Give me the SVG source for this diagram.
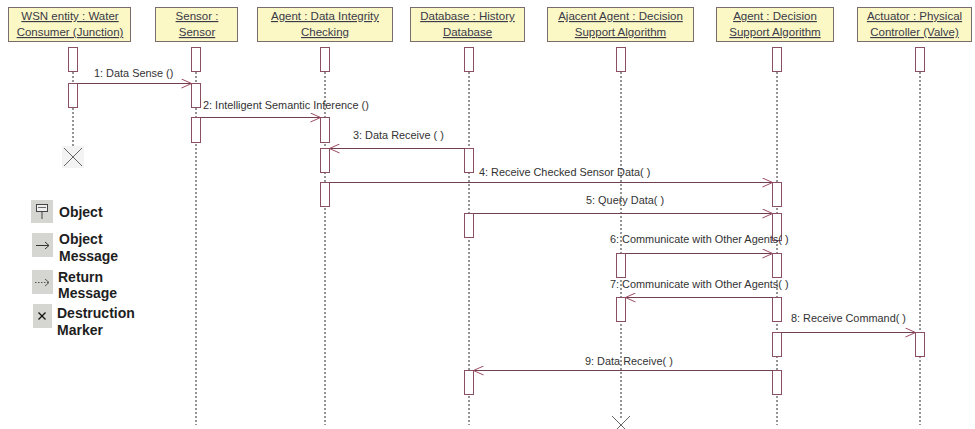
<svg xmlns="http://www.w3.org/2000/svg" width="975" height="429" viewBox="0 0 975 429">
  <style>
    .hdr { fill: #fbf8c6; stroke: #7a6c6c; stroke-width: 1; }
    .hdr-t { font-family: "Liberation Sans", Arial, sans-serif; font-size: 11.5px; fill: #3a3a48; text-anchor: middle; text-decoration: underline; }
    .life { stroke: #2a2a2a; stroke-width: 1; stroke-dasharray: 2 2; fill: none; }
    .bar { fill: #ffffff; stroke: #8a4f60; stroke-width: 1; }
    .msg { stroke: #6e4050; stroke-width: 1; fill: none; marker-end: url(#open); }
    .lbl { font-family: "Liberation Sans", Arial, sans-serif; font-size: 10.9px; fill: #333333; }
    .kill { stroke: #666666; stroke-width: 1; }
    .leg-t { font-family: "Liberation Sans", Arial, sans-serif; font-size: 14px; font-weight: bold; fill: #1e1e1e; }
    .leg-i { fill: #d5d5d1; }
  </style>
  <defs>
    <marker id="open" markerUnits="userSpaceOnUse" markerWidth="12" markerHeight="10" refX="11" refY="5" orient="auto">
      <path d="M1,0.5 L11,5 L1,9.5" fill="none" stroke="#9a4a62" stroke-width="1"/>
    </marker>
  </defs>
  <rect width="975" height="429" fill="#ffffff"/>

  <!-- lifeline: water consumer -->
  <g id="wsn-entity">
    <rect class="hdr" x="8.5" y="7.5" width="122" height="34"/>
    <text class="hdr-t" x="70" y="20">WSN entity : Water </text>
    <text class="hdr-t" x="70" y="36">Consumer (Junction)</text>
    <line class="life" x1="73" y1="72" x2="73" y2="150"/>
    <rect class="bar" x="68.5" y="47.5" width="9" height="24"/>
    <rect class="bar" x="68.5" y="83.5" width="9" height="24"/>
    <rect x="62" y="146" width="22" height="22" fill="#f3f3f3"/>
    <line class="kill" x1="64" y1="148" x2="82" y2="166"/>
    <line class="kill" x1="82" y1="148" x2="64" y2="166"/>
  </g>

  <!-- lifeline: sensor -->
  <g id="sensor">
    <rect class="hdr" x="155.5" y="7.5" width="82" height="34"/>
    <text class="hdr-t" x="197" y="20">Sensor : </text>
    <text class="hdr-t" x="197" y="36">Sensor</text>
    <line class="life" x1="196" y1="72" x2="196" y2="425"/>
    <rect class="bar" x="191.5" y="47.5" width="9" height="24"/>
    <rect class="bar" x="191.5" y="83.5" width="9" height="24"/>
    <rect class="bar" x="191.5" y="117.5" width="9" height="25"/>
  </g>

  <!-- lifeline: data integrity checking agent -->
  <g id="agent-integrity">
    <rect class="hdr" x="257.5" y="7.5" width="135" height="34"/>
    <text class="hdr-t" x="325" y="20">Agent : Data Integrity </text>
    <text class="hdr-t" x="325" y="36">Checking</text>
    <line class="life" x1="325" y1="72" x2="325" y2="425"/>
    <rect class="bar" x="320.5" y="47.5" width="9" height="24"/>
    <rect class="bar" x="320.5" y="117.5" width="9" height="25"/>
    <rect class="bar" x="320.5" y="148.5" width="9" height="24"/>
    <rect class="bar" x="320.5" y="182.5" width="9" height="24"/>
  </g>

  <!-- lifeline: history database -->
  <g id="history-db">
    <rect class="hdr" x="410.5" y="7.5" width="114" height="34"/>
    <text class="hdr-t" x="467.5" y="20">Database : History </text>
    <text class="hdr-t" x="467.5" y="36">Database</text>
    <line class="life" x1="469" y1="72" x2="469" y2="425"/>
    <rect class="bar" x="464.5" y="47.5" width="9" height="24"/>
    <rect class="bar" x="464.5" y="148.5" width="9" height="24"/>
    <rect class="bar" x="464.5" y="213.5" width="9" height="24"/>
    <rect class="bar" x="464.5" y="370.5" width="9" height="24"/>
  </g>

  <!-- lifeline: adjacent decision agent -->
  <g id="adjacent-agent">
    <rect class="hdr" x="547.5" y="7.5" width="146" height="34"/>
    <text class="hdr-t" x="620.5" y="20">Ajacent Agent : Decision </text>
    <text class="hdr-t" x="620.5" y="36">Support Algorithm</text>
    <line class="life" x1="621" y1="72" x2="621" y2="420"/>
    <rect class="bar" x="616.5" y="47.5" width="9" height="24"/>
    <rect class="bar" x="616.5" y="253.5" width="9" height="24"/>
    <rect class="bar" x="616.5" y="297.5" width="9" height="24"/>
    <line class="kill" x1="612" y1="416" x2="630" y2="434"/>
    <line class="kill" x1="630" y1="416" x2="612" y2="434"/>
  </g>

  <!-- lifeline: decision agent -->
  <g id="decision-agent">
    <rect class="hdr" x="716.5" y="7.5" width="117" height="34"/>
    <text class="hdr-t" x="775" y="20">Agent : Decision </text>
    <text class="hdr-t" x="775" y="36">Support Algorithm</text>
    <line class="life" x1="777" y1="72" x2="777" y2="425"/>
    <rect class="bar" x="772.5" y="47.5" width="9" height="24"/>
    <rect class="bar" x="772.5" y="182.5" width="9" height="24"/>
    <rect class="bar" x="772.5" y="213.5" width="9" height="27"/>
    <rect class="bar" x="772.5" y="253.5" width="9" height="24"/>
    <rect class="bar" x="772.5" y="297.5" width="9" height="24"/>
    <rect class="bar" x="772.5" y="332.5" width="9" height="24"/>
    <rect class="bar" x="772.5" y="370.5" width="9" height="24"/>
  </g>

  <!-- lifeline: valve actuator -->
  <g id="actuator">
    <rect class="hdr" x="857.5" y="7.5" width="114" height="34"/>
    <text class="hdr-t" x="914.5" y="20">Actuator : Physical </text>
    <text class="hdr-t" x="914.5" y="36">Controller (Valve)</text>
    <line class="life" x1="920" y1="72" x2="920" y2="425"/>
    <rect class="bar" x="915.5" y="47.5" width="9" height="24"/>
    <rect class="bar" x="915.5" y="332.5" width="9" height="24"/>
  </g>

  <!-- messages -->
  <g id="messages">
    <line class="msg" x1="77.5" y1="83.5" x2="191.5" y2="83.5"/>
    <text class="lbl" x="94" y="77">1: Data Sense ()</text>

    <line class="msg" x1="200.5" y1="117.5" x2="320.5" y2="117.5"/>
    <text class="lbl" x="203" y="109">2: Intelligent Semantic Inference  ()</text>

    <line class="msg" x1="464.5" y1="148.5" x2="329.5" y2="148.5"/>
    <text class="lbl" x="353" y="139">3: Data Receive ( )</text>

    <line class="msg" x1="329.5" y1="182.5" x2="772.5" y2="182.5"/>
    <text class="lbl" x="479" y="176">4: Receive Checked Sensor Data( )</text>

    <line class="msg" x1="473.5" y1="213.5" x2="772.5" y2="213.5"/>
    <text class="lbl" x="586" y="204">5: Query Data( )</text>

    <line class="msg" x1="625.5" y1="253.5" x2="772.5" y2="253.5"/>
    <text class="lbl" x="610" y="243">6: Communicate with Other Agents( )</text>

    <line class="msg" x1="772.5" y1="297.5" x2="625.5" y2="297.5"/>
    <text class="lbl" x="610" y="288">7: Communicate with Other Agents( )</text>

    <line class="msg" x1="781.5" y1="332.5" x2="915.5" y2="332.5"/>
    <text class="lbl" x="791" y="322">8: Receive Command( )</text>

    <line class="msg" x1="772.5" y1="370.5" x2="473.5" y2="370.5"/>
    <text class="lbl" x="585" y="365">9: Data Receive( )</text>
  </g>

  <!-- legend -->
  <g id="legend">
    <rect class="leg-i" x="31" y="200" width="22" height="23"/>
    <rect x="36.5" y="204.5" width="11" height="7" fill="#eeeeee" stroke="#444" stroke-width="1"/>
    <line x1="38" y1="207.5" x2="46" y2="207.5" stroke="#666" stroke-width="1"/>
    <line x1="42" y1="211.5" x2="42" y2="219" stroke="#444" stroke-width="1"/>
    <text class="leg-t" x="59" y="217">Object</text>

    <rect class="leg-i" x="32" y="233" width="21" height="24"/>
    <line x1="36" y1="245.5" x2="49" y2="245.5" stroke="#333" stroke-width="1"/>
    <path d="M45,242 L49,245.5 L45,249" fill="none" stroke="#333" stroke-width="1"/>
    <text class="leg-t" x="59" y="244">Object</text>
    <text class="leg-t" x="59" y="261">Message</text>

    <rect class="leg-i" x="32" y="270" width="21" height="24"/>
    <line x1="35" y1="282.5" x2="49" y2="282.5" stroke="#555" stroke-width="1" stroke-dasharray="1.5 1.5"/>
    <path d="M45,279 L49,282.5 L45,286" fill="none" stroke="#555" stroke-width="1"/>
    <text class="leg-t" x="58" y="282">Return</text>
    <text class="leg-t" x="58" y="298">Message</text>

    <rect class="leg-i" x="33" y="304" width="19" height="24"/>
    <line x1="38.5" y1="312.5" x2="45.5" y2="319.5" stroke="#111" stroke-width="1.3"/>
    <line x1="45.5" y1="312.5" x2="38.5" y2="319.5" stroke="#111" stroke-width="1.3"/>
    <text class="leg-t" x="57" y="318">Destruction</text>
    <text class="leg-t" x="57" y="335">Marker</text>
  </g>
</svg>
